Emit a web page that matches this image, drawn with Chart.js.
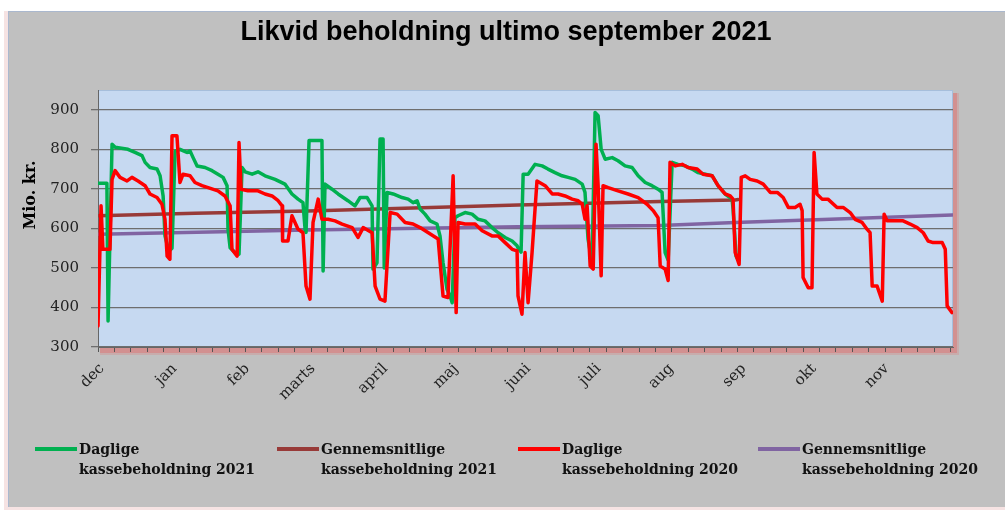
<!DOCTYPE html>
<html><head><meta charset="utf-8">
<script src="https://cdn.jsdelivr.net/npm/chart.js@4.4.1/dist/chart.umd.min.js"></script>
<style>html,body{margin:0;padding:0;background:#fff;}canvas{display:block;}</style>
</head><body>
<canvas id="c" width="1005" height="511"></canvas>
<script>
// ---- data (x = days since 1 Dec, y = Mio. kr.) ----
const monthLabels = ['dec','jan','feb','marts','april','maj','juni','juli','aug','sep','okt','nov'];
const monthDays   = [0,31,62,90,121,151,182,212,243,274,304,335];
const yTickValues = [300,400,500,600,700,800,900];

const days2021 = [0,3.8,4.3,6,7.3,12.8,15.8,18.8,20.1,22.2,25.2,26.5,27.8,28.6,29.5,30.7,31.6,32.9,35,38,39.3,40.6,42.3,45.7,48.7,51.2,53.4,55.1,55.5,56.4,58.5,60.2,61.5,62.8,65.8,68.3,71.3,75.6,79.8,82.8,85.4,87.5,88.4,88.8,90.1,95.6,96.1,96.9,99.9,102.5,106.7,109.7,111.9,114.9,117,117.4,119.1,120.4,121.7,122.2,123.4,126,129.8,132.4,134.5,136.2,137.5,139.6,141.8,144.7,146,147.3,149,150.3,151.2,152.4,153.7,156.7,159.7,162.3,165.2,168.2,170.8,173.8,176.8,178.9,179.3,180.6,181.5,183.6,186.6,189.6,192.1,195.1,198.1,200.7,203.7,206.7,207.9,209.2,210.9,212.2,213.5,214.8,216.5,219.5,222,225,228,230.6,233.6,236.5,239.1,240.8,242.1,243.4,245.1,247.6,250.6,253.6,256.2,259.2,262.2,264.7,267.7,270.7,271.1,272.4,273.3];
const vals2021 = [714,714,366,813,805,800,792,784,767,754,750,733,682,581,560,545,550,795,800,792,796,779,758,754,746,737,729,708,598,551,539,535,754,743,737,743,733,724,712,687,674,665,598,590,822,822,492,712,699,687,670,657,678,678,657,497,513,826,826,500,691,687,678,674,665,670,649,636,619,611,581,513,446,429,412,627,632,640,636,623,619,602,589,577,568,556,551,540,737,737,762,758,750,741,733,729,724,712,691,573,513,893,885,800,775,779,771,758,754,733,716,708,699,691,539,520,767,762,758,750,741,737,733,708,687,674,649,530,520];

const daysAvg2021 = [0,41.4,89.7,179.3,240,272,273.3];
const valsAvg2021 = [632,638,644,659,668,672,673];

const days2020 = [0,1.3,2.1,5.1,6,7.3,9.4,12.4,14.5,17.1,20.1,22.2,25.2,27.3,28.6,29.5,30.7,31.6,33.7,35,36.3,39.3,41.4,44.4,47,51.2,54.2,56.4,57.2,59.4,60.2,61.1,64,68.3,71.3,74.3,76.9,78.6,78.8,81.1,82.8,85.4,87.5,88.8,90.5,91.8,94,95.6,98.2,101.2,104.2,108.5,111,113.2,117,118.3,120.4,122.5,124.7,127.7,131.1,134.5,137.5,145.2,147.3,149.4,151.6,152.9,153.7,156.7,161,164,168.2,170.8,173.8,176.8,178.9,179.3,181,182.3,183.6,185.3,187.4,190.9,193.9,196.4,199.4,202.4,205,206.7,207.9,208.8,210.1,211.4,212.6,213.5,214.8,215.6,217.8,222,226.3,230.6,234.4,237,239.1,240,242.1,243.4,244.2,246.4,249.4,251.9,255.8,258.3,262.2,264.7,267.7,269.9,271.1,272,273.7,274.6,276.3,278.4,281.4,284,287,290,292.5,294.7,297.6,299.7,300.6,301,303.2,304.8,305.7,306.9,309.1,311.6,315.5,318.1,321.1,323.2,326.2,328.3,329.6,330.5,332.6,334.8,335.6,336.9,343.7,346.7,349.7,352.3,354.4,356.5,360.4,361.7,362.5,364.6];
const vals2020 = [353,657,547,547,724,746,729,720,729,720,708,687,678,661,623,530,522,834,834,716,737,733,716,708,703,695,682,657,547,530,817,699,695,695,687,682,670,657,568,568,632,598,589,454,421,615,674,623,623,619,611,602,577,602,589,454,421,416,640,636,615,611,602,573,429,425,733,387,615,611,611,594,581,581,564,547,543,429,383,539,412,539,720,708,687,687,682,674,670,661,623,657,505,497,813,708,480,708,703,695,687,678,661,645,627,505,497,468,767,758,762,754,750,737,733,708,687,682,674,539,509,729,733,724,720,712,691,691,678,653,653,661,645,476,450,450,792,687,674,674,653,653,640,623,615,598,589,454,454,416,636,619,619,611,602,589,568,564,564,547,404,387];

const daysAvg2020 = [0,89.7,179.3,240,272,312.6,364.6];
const valsAvg2020 = [585,596,604,607,615,623,634];

const legendNames = [
  ['Daglige','kassebeholdning 2021'],
  ['Gennemsnitlige','kassebeholdning 2021'],
  ['Daglige','kassebeholdning 2020'],
  ['Gennemsnitlige','kassebeholdning 2020']
];
const seriesColors = ['#00b050','#983a38','#ff0000','#8064a2'];

const pts = (xs, ys) => xs.map((x, i) => ({x: x, y: ys[i]}));

const serif = '"DejaVu Serif", "Liberation Serif", serif';

const decorPlugin = {
  id: 'decor',
  beforeDraw(chart) {
    const ctx = chart.ctx, a = chart.chartArea;
    ctx.save();
    ctx.fillStyle = '#ffffff';
    ctx.fillRect(0, 0, chart.width, chart.height);
    ctx.fillStyle = '#f6e3e3';
    ctx.fillRect(4, 11, 4, 499);
    ctx.fillRect(4, 506, 1001, 4);
    ctx.fillStyle = '#c0c0c0';
    ctx.fillRect(8, 11, 997, 496);
    ctx.fillStyle = '#aab8ce';
    ctx.fillRect(8, 11, 997, 1);
    ctx.fillRect(8, 11, 1, 496);
    // plot area shadow
    ctx.fillStyle = 'rgba(225,110,110,0.45)';
    ctx.fillRect(a.left + 2, a.top + 3, a.width + 2, a.height + 3);
    ctx.fillStyle = 'rgba(225,110,110,0.25)';
    ctx.fillRect(a.left + 2, a.top + 3, a.width + 4, a.height + 5);
    ctx.fillStyle = '#c6d9f1';
    ctx.fillRect(a.left, a.top, a.width, a.height);
    ctx.strokeStyle = '#a6bedb';
    ctx.lineWidth = 1;
    ctx.strokeRect(a.left + 0.5, a.top + 0.5, a.width - 1, a.height - 1);
    ctx.restore();
  },
  afterDraw(chart) {
    const ctx = chart.ctx;
    ctx.save();
    // title
    ctx.fillStyle = '#000';
    ctx.font = 'bold 27px "Liberation Sans", Arial, sans-serif';
    ctx.textAlign = 'center';
    ctx.textBaseline = 'middle';
    ctx.fillText('Likvid beholdning ultimo september 2021', 506, 33);
    // y axis title
    ctx.save();
    ctx.translate(31, 195);
    ctx.rotate(-Math.PI / 2);
    ctx.font = 'bold 16px ' + serif;
    ctx.fillText('Mio. kr.', 0, 0);
    ctx.restore();
    // legend
    const lx = [35, 277, 518, 758];
    ctx.textAlign = 'left';
    ctx.font = 'bold 14px ' + serif;
    ctx.fillStyle = '#111';
    legendNames.forEach((lines, i) => {
      ctx.strokeStyle = seriesColors[i];
      ctx.lineWidth = 4;
      ctx.beginPath();
      ctx.moveTo(lx[i], 449);
      ctx.lineTo(lx[i] + 42, 449);
      ctx.stroke();
      ctx.fillText(lines[0], lx[i] + 44, 450);
      ctx.fillText(lines[1], lx[i] + 44, 470);
    });
    ctx.restore();
  }
};

const lineDs = (label, data, color, order) => ({
  label, data, borderColor: color, backgroundColor: color,
  borderWidth: 3.5, pointRadius: 0, tension: 0, order,
  borderJoinStyle: 'round', borderCapStyle: 'round', fill: false
});

new Chart(document.getElementById('c'), {
  type: 'line',
  data: {
    datasets: [
      lineDs(legendNames[0].join(' '), pts(days2021, vals2021), seriesColors[0], 2),
      lineDs(legendNames[1].join(' '), pts(daysAvg2021, valsAvg2021), seriesColors[1], 4),
      lineDs(legendNames[2].join(' '), pts(days2020, vals2020), seriesColors[2], 1),
      lineDs(legendNames[3].join(' '), pts(daysAvg2020, valsAvg2020), seriesColors[3], 3)
    ]
  },
  options: {
    responsive: false,
    animation: false,
    devicePixelRatio: 1,
    layout: { padding: { left: 0, right: 52, top: 90, bottom: 104 } },
    plugins: { legend: { display: false }, title: { display: false }, tooltip: { enabled: false } },
    scales: {
      x: {
        type: 'linear', position: 'bottom', min: 0, max: 365,
        ticks: { display: false, stepSize: 7, includeBounds: false },
        grid: { drawOnChartArea: false, drawTicks: true, tickLength: 5, color: '#555', lineWidth: 1 },
        border: { display: true, color: '#666', width: 1 },
        afterFit(s) { s.height = 5; }
      },
      x2: {
        type: 'linear', position: 'bottom', min: 0, max: 365,
        afterBuildTicks(s) { s.ticks = monthDays.map(v => ({ value: v })); },
        ticks: {
          autoSkip: false, maxRotation: 45, minRotation: 45, padding: 8, labelOffset: 4,
          color: '#222', font: { family: serif, size: 15 },
          callback: (v, i) => monthLabels[i]
        },
        grid: { display: false, drawTicks: false },
        border: { display: false },
        afterFit(s) { s.height = 55; }
      },
      y: {
        min: 300, max: 950,
        afterBuildTicks(s) { s.ticks = yTickValues.map(v => ({ value: v })); },
        ticks: { color: '#222', padding: 12, font: { family: serif, size: 15 } },
        grid: { color: '#6e6e6e', lineWidth: 1.3, tickLength: 7, drawTicks: true },
        border: { display: true, color: '#666', width: 1 },
        afterFit(s) { s.width = 98; }
      }
    }
  },
  plugins: [decorPlugin]
});
</script></body></html>
